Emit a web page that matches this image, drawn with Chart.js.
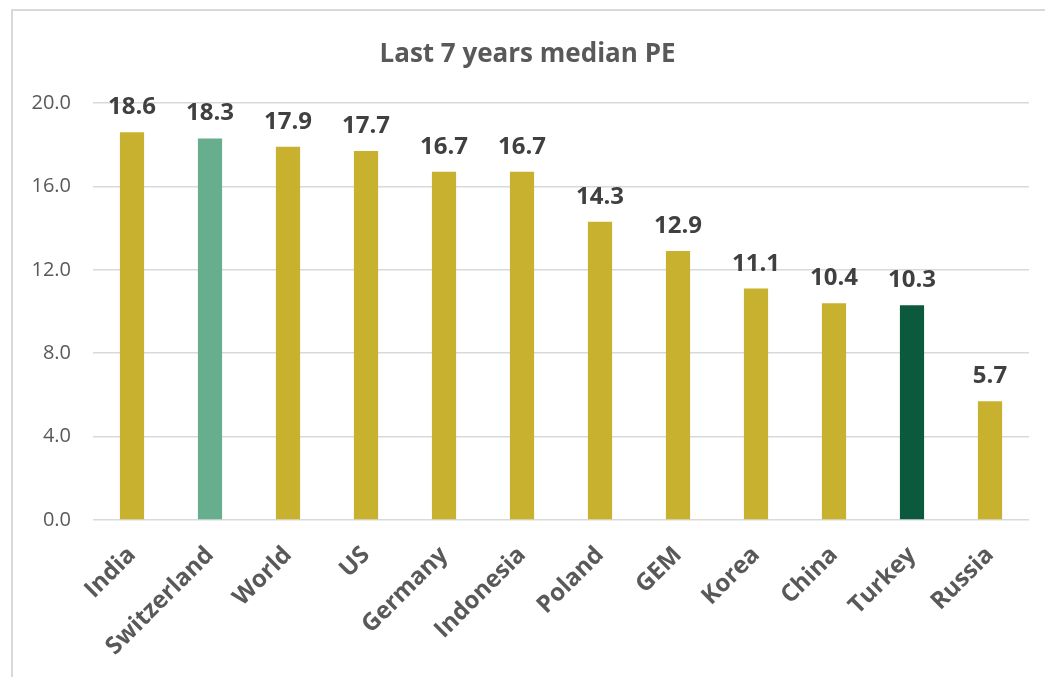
<!DOCTYPE html>
<html>
<head>
<meta charset="utf-8">
<script src="https://cdn.jsdelivr.net/npm/chart.js@4"></script>
<style>
  html, body { margin: 0; padding: 0; background: #fff; }
  #wrap { position: relative; width: 1045px; height: 677px; overflow: hidden; }
  #frame { position: absolute; left: 11px; top: 9px; width: 1100px; height: 700px; border: 2px solid #d9d9d9; }
  canvas { position: absolute; left: 0; top: 0; }
</style>
</head>
<body>
<div id="wrap">
  <div id="frame"></div>
  <canvas id="myChart" width="1045" height="677"></canvas>
</div>
<script>
var countries = ['India', 'Switzerland', 'World', 'US', 'Germany', 'Indonesia', 'Poland', 'GEM', 'Korea', 'China', 'Turkey', 'Russia'];
var medianPE = [18.6, 18.3, 17.9, 17.7, 16.7, 16.7, 14.3, 12.9, 11.1, 10.4, 10.3, 5.7];
var yTicks = [0, 4, 8, 12, 16, 20];

var gold = '#c8b12e';
var barColors = countries.map(function (c) {
    if (c == 'Switzerland') return '#67ae8f';
    if (c == 'Turkey') return '#0c5a3e';
    return gold;
});

// value labels above the bars
var barLabels = {
    id: 'barLabels',
    afterDatasetsDraw: function (chart) {
        var ctx = chart.ctx;
        var meta = chart.getDatasetMeta(0);
        ctx.save();
        ctx.font = 'bold 24px "Open Sans"';
        ctx.fillStyle = '#404040';
        ctx.textAlign = 'center';
        ctx.textBaseline = 'alphabetic';
        meta.data.forEach(function (bar, i) {
            ctx.fillText(medianPE[i].toFixed(1), bar.x, bar.y - 18);
        });
        ctx.restore();
    }
};

var ctx = document.getElementById('myChart').getContext('2d');
var myChart = new Chart(ctx, {
    type: 'bar',
    data: {
        labels: countries,
        datasets: [{
            data: medianPE,
            backgroundColor: barColors,
            categoryPercentage: 1,
            barPercentage: 0.31
        }]
    },
    options: {
        responsive: false,
        animation: false,
        layout: { padding: { left: 26, right: 16, top: 0, bottom: 0 } },
        plugins: {
            legend: { display: false },
            tooltip: { enabled: false },
            title: {
                display: true,
                text: 'Last 7 years median PE',
                color: '#595959',
                font: { family: 'Open Sans', size: 26, weight: 'bold', lineHeight: 1 },
                padding: { top: 42, bottom: 35 }
            }
        },
        scales: {
            x: {
                grid: { display: false },
                border: { display: false },
                ticks: {
                    autoSkip: false,
                    minRotation: 45,
                    maxRotation: 45,
                    color: '#595959',
                    padding: 13,
                    font: { family: 'Open Sans', size: 24, weight: 'bold' }
                },
                afterFit: function (scale) { scale.height = 157; }
            },
            y: {
                min: 0,
                max: 20,
                afterBuildTicks: function (scale) {
                    scale.ticks = yTicks.map(function (v) { return { value: v }; });
                },
                grid: { color: '#d9d9d9', lineWidth: 1.5, drawTicks: false },
                border: { display: false },
                ticks: {
                    color: '#595959',
                    padding: 22,
                    font: { family: 'Open Sans', size: 20 },
                    callback: function (v) { return Number(v).toFixed(1); }
                },
                afterFit: function (scale) { scale.width = 67; }
            }
        }
    },
    plugins: [barLabels]
});
</script>
</body>
</html>
